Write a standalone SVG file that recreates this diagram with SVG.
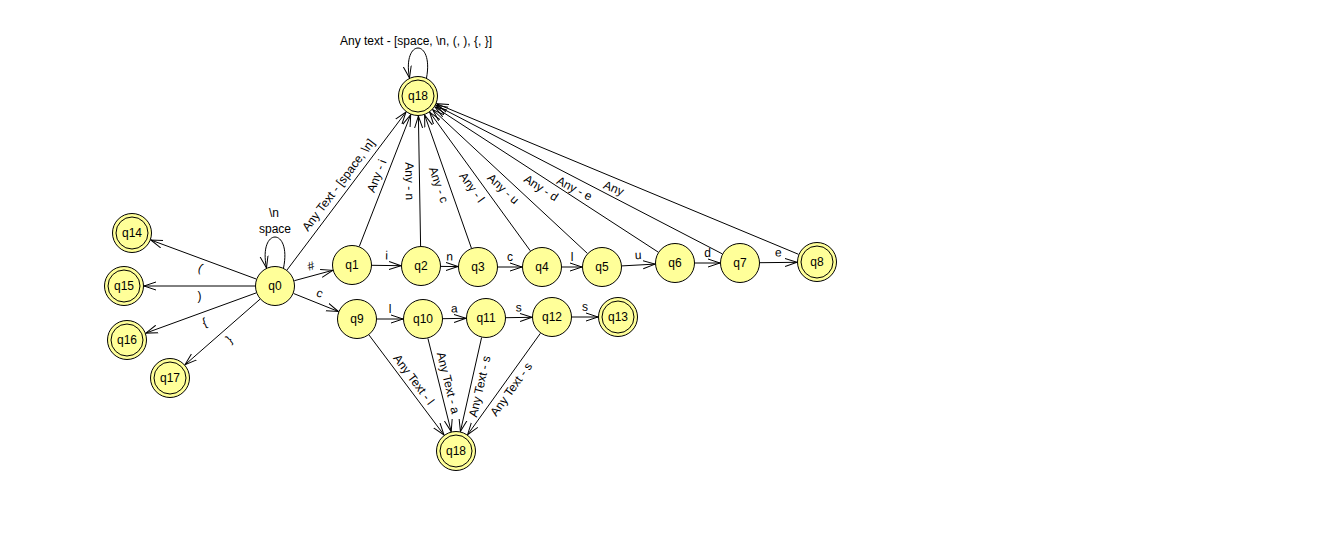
<svg xmlns="http://www.w3.org/2000/svg" width="1339" height="547" viewBox="0 0 1339 547">
<style>
.e{stroke:#000;stroke-width:1;fill:none;marker-end:url(#arr)}
.n{fill:#ffff99;stroke:#000;stroke-width:1}
.t{font-family:"Liberation Sans",Arial,sans-serif;font-size:12px;fill:#000;text-anchor:middle;dominant-baseline:central}
.l{font-family:"Liberation Sans",Arial,sans-serif;font-size:12px;fill:#000;text-anchor:middle;dominant-baseline:central}
</style>
<defs>
<marker id="arr" markerUnits="userSpaceOnUse" markerWidth="14" markerHeight="10" refX="12" refY="4.5" orient="auto" viewBox="0 0 14 9">
<path d="M0,0.5 L12,4.5 L0,8.5" fill="none" stroke="#000" stroke-width="1"/>
</marker>
</defs>
<rect width="1339" height="547" fill="#fff"/>
<g id="edges">
<line class="e" x1="256.2" y1="279" x2="150.8" y2="240"/>
<line class="e" x1="255" y1="286" x2="144" y2="286"/>
<line class="e" x1="256.2" y1="292.9" x2="145.8" y2="333.1"/>
<line class="e" x1="260" y1="299.2" x2="185" y2="364.8"/>
<line class="e" x1="294.3" y1="280.7" x2="332.7" y2="270.3"/>
<line class="e" x1="293.6" y1="293.5" x2="338.4" y2="311.5"/>
<line class="e" x1="287" y1="270" x2="406" y2="112"/>
<line class="e" x1="359.3" y1="246.4" x2="410.7" y2="114.6"/>
<line class="e" x1="420.6" y1="246" x2="418.4" y2="116"/>
<line class="e" x1="471.4" y1="248.1" x2="424.6" y2="114.9"/>
<line class="e" x1="530.3" y1="250.8" x2="429.7" y2="112.2"/>
<line class="e" x1="587.4" y1="253.4" x2="432.6" y2="109.6"/>
<line class="e" x1="658.2" y1="252.1" x2="434.8" y2="106.9"/>
<line class="e" x1="722.2" y1="253.8" x2="435.8" y2="105.2"/>
<line class="e" x1="798.5" y1="254.3" x2="436.5" y2="103.7"/>
<line class="e" x1="372" y1="265.3" x2="401" y2="265.7"/>
<line class="e" x1="441" y1="266.4" x2="458" y2="266.6"/>
<line class="e" x1="498" y1="267" x2="522" y2="267"/>
<line class="e" x1="562" y1="267" x2="582" y2="267"/>
<line class="e" x1="622" y1="265.9" x2="655" y2="264.1"/>
<line class="e" x1="695" y1="263" x2="720" y2="263"/>
<line class="e" x1="760" y1="262.7" x2="797" y2="262.3"/>
<line class="e" x1="377" y1="319" x2="403" y2="319"/>
<line class="e" x1="443" y1="318.7" x2="466" y2="318.3"/>
<line class="e" x1="506" y1="317.7" x2="532" y2="317.3"/>
<line class="e" x1="572" y1="317" x2="598" y2="317"/>
<line class="e" x1="369" y1="335" x2="444" y2="435"/>
<line class="e" x1="427.9" y1="338.4" x2="451.2" y2="431.6"/>
<line class="e" x1="481.6" y1="337.5" x2="460.4" y2="431.5"/>
<line class="e" x1="540.4" y1="333.3" x2="467.6" y2="434.7"/>
<path class="e" d="M283.5,268 C292,226.7 258,226.7 266.5,268"/>
<path class="e" d="M426.5,78 C434,38 402,38 409.5,78"/>
<text class="l" transform="translate(200.4,268) rotate(20.3)">(</text>
<text class="l" transform="translate(199.5,295.5)">)</text>
<text class="l" transform="translate(204.4,322.4) rotate(-20)">{</text>
<text class="l" transform="translate(229.1,339.5) rotate(-41.2)">}</text>
<text class="l" transform="translate(310.9,265.9) rotate(-15.3)">#</text>
<text class="l" transform="translate(319.7,293.2) rotate(21.9)">c</text>
<text class="l" transform="translate(338.5,185) rotate(-53)">Any Text - [space, \n]</text>
<text class="l" transform="translate(376.7,175.9) rotate(-68.7)">Any - i</text>
<text class="l" transform="translate(409.5,181.2) rotate(89)">Any - n</text>
<text class="l" transform="translate(438.6,184.8) rotate(70.7)">Any - c</text>
<text class="l" transform="translate(471.9,187.4) rotate(54.1)">Any - l</text>
<text class="l" transform="translate(503.2,188.8) rotate(42.9)">Any - u</text>
<text class="l" transform="translate(541,187.9) rotate(33)">Any - d</text>
<text class="l" transform="translate(574.4,188.4) rotate(27.4)">Any - e</text>
<text class="l" transform="translate(613.7,188.2) rotate(22.6)">Any</text>
<text class="l" transform="translate(386.6,255.5) rotate(0.8)">i</text>
<text class="l" transform="translate(449.7,256.5) rotate(1)">n</text>
<text class="l" transform="translate(510,257)">c</text>
<text class="l" transform="translate(572,257)">l</text>
<text class="l" transform="translate(638,255) rotate(-3.1)">u</text>
<text class="l" transform="translate(707.5,253)">d</text>
<text class="l" transform="translate(778.4,252.5) rotate(-0.7)">e</text>
<text class="l" transform="translate(390,309)">l</text>
<text class="l" transform="translate(454.3,308.5) rotate(-0.9)">a</text>
<text class="l" transform="translate(518.8,307.5) rotate(-0.9)">s</text>
<text class="l" transform="translate(585,307)">s</text>
<text class="l" transform="translate(413.7,379.6) rotate(53.1)">Any Text - l</text>
<text class="l" transform="translate(448.2,382.8) rotate(76)">Any Text - a</text>
<text class="l" transform="translate(479.8,386.5) rotate(-77.3)">Any Text - s</text>
<text class="l" transform="translate(511.3,389.2) rotate(-54.4)">Any Text - s</text>
<text class="l" x="274" y="213">\n</text>
<text class="l" x="275" y="229">space</text>
<text class="l" x="416" y="41">Any text - [space, \n, (, ), {, }]</text>
</g>
<g id="q0"><circle class="n" cx="275" cy="286" r="19.5"/><text class="t" x="275" y="286">q0</text></g>
<g id="q1"><circle class="n" cx="352" cy="265" r="19.5"/><text class="t" x="352" y="265">q1</text></g>
<g id="q2"><circle class="n" cx="421" cy="266" r="19.5"/><text class="t" x="421" y="266">q2</text></g>
<g id="q3"><circle class="n" cx="478" cy="267" r="19.5"/><text class="t" x="478" y="267">q3</text></g>
<g id="q4"><circle class="n" cx="542" cy="267" r="19.5"/><text class="t" x="542" y="267">q4</text></g>
<g id="q5"><circle class="n" cx="602" cy="267" r="19.5"/><text class="t" x="602" y="267">q5</text></g>
<g id="q6"><circle class="n" cx="675" cy="263" r="19.5"/><text class="t" x="675" y="263">q6</text></g>
<g id="q7"><circle class="n" cx="740" cy="263" r="19.5"/><text class="t" x="740" y="263">q7</text></g>
<g id="q8"><circle class="n" cx="817" cy="262" r="19.5"/><circle class="n" cx="817" cy="262" r="16"/><text class="t" x="817" y="262">q8</text></g>
<g id="q9"><circle class="n" cx="357" cy="319" r="19.5"/><text class="t" x="357" y="319">q9</text></g>
<g id="q10"><circle class="n" cx="423" cy="319" r="19.5"/><text class="t" x="423" y="319">q10</text></g>
<g id="q11"><circle class="n" cx="486" cy="318" r="19.5"/><text class="t" x="486" y="318">q11</text></g>
<g id="q12"><circle class="n" cx="552" cy="317" r="19.5"/><text class="t" x="552" y="317">q12</text></g>
<g id="q13"><circle class="n" cx="618" cy="317" r="19.5"/><circle class="n" cx="618" cy="317" r="16"/><text class="t" x="618" y="317">q13</text></g>
<g id="q14"><circle class="n" cx="132" cy="233" r="19.5"/><circle class="n" cx="132" cy="233" r="16"/><text class="t" x="132" y="233">q14</text></g>
<g id="q15"><circle class="n" cx="124" cy="286" r="19.5"/><circle class="n" cx="124" cy="286" r="16"/><text class="t" x="124" y="286">q15</text></g>
<g id="q16"><circle class="n" cx="127" cy="340" r="19.5"/><circle class="n" cx="127" cy="340" r="16"/><text class="t" x="127" y="340">q16</text></g>
<g id="q17"><circle class="n" cx="170" cy="378" r="19.5"/><circle class="n" cx="170" cy="378" r="16"/><text class="t" x="170" y="378">q17</text></g>
<g id="q18a"><circle class="n" cx="418" cy="96" r="19.5"/><circle class="n" cx="418" cy="96" r="16"/><text class="t" x="418" y="96">q18</text></g>
<g id="q18b"><circle class="n" cx="456" cy="451" r="19.5"/><circle class="n" cx="456" cy="451" r="16"/><text class="t" x="456" y="451">q18</text></g>
</svg>
